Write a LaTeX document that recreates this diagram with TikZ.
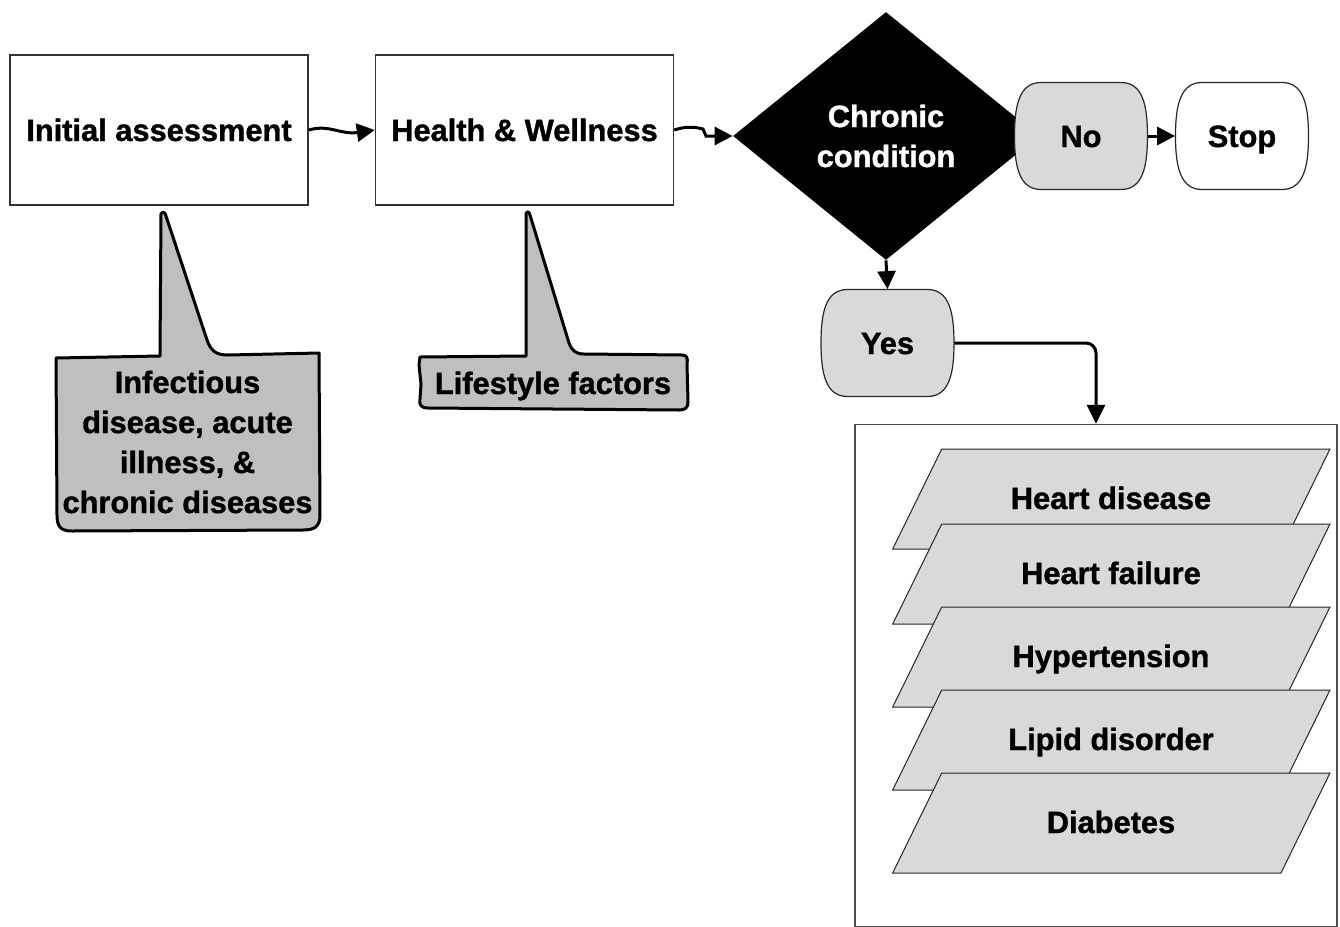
\documentclass[tikz,border=0pt]{standalone}
\usepackage{fontspec}
\setmainfont{Liberation Sans}[BoldFeatures={FakeBold=1.2}]
\usetikzlibrary{shapes.geometric,arrows.meta,calc}

\definecolor{panelgray}{HTML}{D9D9D9}
\definecolor{calloutgray}{HTML}{BFBFBF}

% barrel-sided terminal: centre x, centre y, fill colour
\newcommand\barrelshape[3]{%
  \filldraw[barrel, fill=#3] ({#1-40},{#2-53.5}) -- ({#1+40},{#2-53.5})
    .. controls ({#1+62},{#2-53.5}) and ({#1+66.5},{#2-30}) .. ({#1+66.5},{#2})
    .. controls ({#1+66.5},{#2+30}) and ({#1+62},{#2+53.5}) .. ({#1+40},{#2+53.5})
    -- ({#1-40},{#2+53.5})
    .. controls ({#1-62},{#2+53.5}) and ({#1-66.5},{#2+30}) .. ({#1-66.5},{#2})
    .. controls ({#1-66.5},{#2-30}) and ({#1-62},{#2-53.5}) .. ({#1-40},{#2-53.5}) -- cycle;}

% slanted condition panel: top y, node name, label
\newcommand\diseaseplate[3]{%
  \filldraw[plate] (941.7,#1) -- (1330,#1) -- (1281,{#1+100}) -- (892.7,{#1+100}) -- cycle;
  \node[captext] (#2) at (1111,{#1+49}) {#3};}

\begin{document}
\begin{tikzpicture}[x=0.5pt,y=-0.5pt,
  every node/.style={font=\fontsize{15.4}{20}\selectfont\bfseries},
  captext/.style={text height=11pt, text depth=0pt, inner sep=0pt},
  stepbox/.style={draw=black!80, line width=0.7pt, fill=white,
    minimum width=149pt, minimum height=75pt, inner sep=0pt},
  barrel/.style={draw=black!85, line width=0.6pt},
  plate/.style={draw=black!85, line width=0.5pt, fill=panelgray},
  callout/.style={draw=black, line width=1.5pt, fill=calloutgray, line join=round},
  arr/.style={line width=1.5pt, -{Triangle[length=9pt,width=9pt]}},
  bigarr/.style={line width=1.5pt, -{Triangle[length=9.5pt,width=9pt]}}
]
\useasboundingbox (0,0) rectangle (1340,927);

% main boxes
\node[stepbox, captext, minimum height=75pt] (b1) at (159,130) {Initial assessment};
\node[stepbox, captext, minimum height=75pt] (b2) at (524.5,130) {Health \& Wellness};

% decision
\node[diamond, fill=black, text=white, align=center, inner sep=0pt,
      minimum width=153pt, minimum height=124pt] (dia) at (886,136) {Chronic\\condition};

% terminals
\barrelshape{1081}{136}{panelgray}
\node[captext, minimum width=66.5pt, minimum height=53.5pt] (no) at (1081,136) {No};
\barrelshape{1242}{136}{white}
\node[captext, minimum width=66.5pt, minimum height=53.5pt] (stop) at (1242,136) {Stop};
\barrelshape{887.5}{343}{panelgray}
\node[captext, minimum width=66.5pt, minimum height=53.5pt] (yes) at (887.5,343) {Yes};

% callouts
\filldraw[callout] (56,358) -- (160,356) -- (161,214) .. controls (163,211) and (165,212) .. (166,216)
  -- (207,340) .. controls (211,351) and (216,355) .. (228,355) -- (319,353)
  -- (320,515) .. controls (320,527) and (314,530) .. (303,530) -- (72,531)
  .. controls (60,531) and (57,526) .. (57,515) -- cycle;
\node[align=center, inner sep=0pt] (cal1) at (187.5,442) {Infectious\\disease, acute\\illness, \&\\chronic diseases};

\filldraw[callout] (420,357) -- (526,356) -- (526,214) .. controls (527,211) and (529,211) .. (530,215)
  -- (569,343) .. controls (572,351) and (576,354) .. (584,354) -- (682,355)
  .. controls (687,355) and (688,358) .. (687,364) -- (688,402)
  .. controls (688,408) and (685,410) .. (679,410) -- (428,408)
  .. controls (421,408) and (419,405) .. (420,399) -- (421,384) -- (419,365) -- cycle;
\node[captext] (cal2) at (553,383) {Lifestyle factors};

% condition list
\node[draw=black!70, line width=0.7pt, minimum width=241pt, minimum height=251pt, inner sep=0pt] (conds) at (1096,675.5) {};
\diseaseplate{449}{hd}{Heart disease}
\diseaseplate{524}{hf}{Heart failure}
\diseaseplate{607}{ht}{Hypertension}
\diseaseplate{690}{ld}{Lipid disorder}
\diseaseplate{773}{db}{Diabetes}

% connectors
\draw[arr] (b1.east) .. controls (330,124) and (340,135) .. (b2.west);
\draw[arr] (b2.east) .. controls (686,126) and (695,127) .. (703,129) -- (706,136) -- (dia.west);
\draw[arr] (dia.south) -- (yes.north);
\draw[arr] (no.east) -- (stop.west);
\draw[bigarr, rounded corners=5pt] (yes.east) -- (yes.east -| conds.north) -- (conds.north);
\end{tikzpicture}
\end{document}
